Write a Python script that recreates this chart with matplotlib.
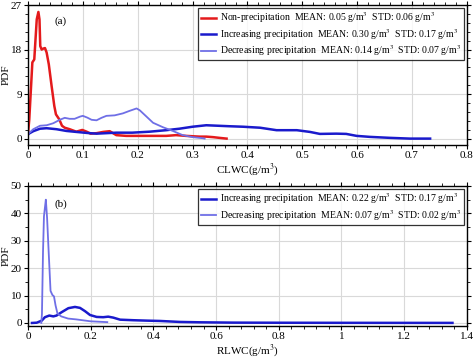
import matplotlib
matplotlib.use("Agg")
import matplotlib.pyplot as plt
from matplotlib.ticker import MultipleLocator

plt.rcParams['font.family'] = ['Liberation Serif', 'DejaVu Serif']
plt.rcParams['mathtext.fontset'] = 'stix'

# CLWC panel (a)
non_x = [0, 0.0024, 0.008, 0.0115, 0.016, 0.019, 0.021, 0.0224, 0.025, 0.028, 0.031, 0.034,
         0.038, 0.043, 0.048, 0.051, 0.057, 0.062, 0.067, 0.076, 0.088, 0.099, 0.107, 0.114,
         0.125, 0.137, 0.149, 0.155, 0.161, 0.179, 0.204, 0.234, 0.252, 0.27, 0.288, 0.313,
         0.325, 0.337, 0.349, 0.362]
non_y = [0.9, 3.9, 15.4, 16.0, 24.1, 25.6, 24.1, 18.7, 18.0, 18.2, 18.3, 17.4,
         15.0, 10.7, 6.6, 4.9, 3.9, 2.6, 2.2, 1.9, 1.4, 1.75, 1.4, 1.0,
         1.1, 1.35, 1.5, 1.1, 0.7, 0.55, 0.55, 0.55, 0.55, 0.7, 0.55, 0.4,
         0.4, 0.3, 0.15, 0.0]

inc_x = [0, 0.0097, 0.022, 0.034, 0.052, 0.07, 0.088, 0.107, 0.125, 0.143, 0.161, 0.19,
         0.222, 0.252, 0.276, 0.3, 0.325, 0.367, 0.392, 0.423, 0.453, 0.49, 0.514, 0.532,
         0.562, 0.58, 0.599, 0.623, 0.66, 0.696, 0.733]
inc_y = [0.9, 1.5, 2.0, 2.1, 1.9, 1.55, 1.35, 1.15, 1.0, 1.1, 1.2, 1.2,
         1.4, 1.7, 2.0, 2.4, 2.7, 2.5, 2.4, 2.2, 1.7, 1.7, 1.35, 0.95,
         1.0, 0.95, 0.55, 0.35, 0.15, 0.0, 0.0]

dec_x = [0, 0.0097, 0.022, 0.034, 0.046, 0.058, 0.067, 0.076, 0.085, 0.095, 0.1, 0.108,
         0.116, 0.125, 0.134, 0.143, 0.158, 0.173, 0.185, 0.198, 0.204, 0.216, 0.228,
         0.246, 0.264, 0.282, 0.3, 0.319, 0.322]
dec_y = [0.9, 1.9, 2.6, 2.7, 3.1, 3.8, 4.2, 4.0, 4.0, 4.45, 4.6, 4.25,
         3.8, 3.7, 4.2, 4.6, 4.7, 5.1, 5.6, 6.1, 5.7, 4.45, 3.2,
         2.3, 1.55, 0.7, 0.3, 0.07, 0.0]

# RLWC panel (b)
rinc_x = [0.0128, 0.028, 0.044, 0.054, 0.068, 0.081, 0.091, 0.107, 0.129, 0.15, 0.166,
          0.182, 0.198, 0.219, 0.24, 0.256, 0.272, 0.294, 0.336, 0.379, 0.421, 0.485,
          0.549, 0.655, 0.8, 1.0, 1.2, 1.354]
rinc_y = [0.0, 0.1, 0.85, 2.1, 2.7, 2.4, 2.7, 3.9, 5.4, 5.85, 5.5,
          4.3, 2.9, 2.2, 2.1, 2.3, 1.95, 1.2, 1.0, 0.85, 0.73, 0.37,
          0.24, 0.12, 0.08, 0.05, 0.03, 0.02]

rdec_x = [0.0426, 0.0446, 0.048, 0.051, 0.054, 0.057, 0.061, 0.066, 0.072, 0.078, 0.083,
          0.088, 0.094, 0.106, 0.128, 0.154, 0.2, 0.253]
rdec_y = [0.0, 3.3, 26.0, 38.9, 42.0, 45.0, 38.3, 26.0, 11.7, 10.2, 9.7,
          6.4, 3.5, 2.4, 1.6, 1.3, 0.6, 0.3]

labels_a = ['Non-precipitation  MEAN: 0.05 g/m$^3$  STD: 0.06 g/m$^3$',
            'Increasing precipitation  MEAN: 0.30 g/m$^3$  STD: 0.17 g/m$^3$',
            'Decreasing precipitation  MEAN: 0.14 g/m$^3$  STD: 0.07 g/m$^3$']
labels_b = ['Increasing precipitation  MEAN: 0.22 g/m$^3$  STD: 0.17 g/m$^3$',
            'Decreasing precipitation  MEAN: 0.07 g/m$^3$  STD: 0.02 g/m$^3$']

red = '#e41a1c'
blue = '#1a1acc'
light = '#6f6fe6'

fig = plt.figure(figsize=(4.74, 3.59), dpi=100)
ax1 = fig.add_axes([0.059, 0.596, 0.926, 0.390])
ax2 = fig.add_axes([0.059, 0.092, 0.926, 0.390])

ax1.plot(non_x, non_y, color=red, lw=1.8, label=labels_a[0])
ax1.plot(inc_x, inc_y, color=blue, lw=1.8, label=labels_a[1])
ax1.plot(dec_x, dec_y, color=light, lw=1.3, label=labels_a[2])
ax1.set_xlim(0, 0.8)
ax1.set_ylim(-1.3, 27)
ax1.set_xticks([0, 0.1, 0.2, 0.3, 0.4, 0.5, 0.6, 0.7, 0.8])
ax1.set_xticklabels(['0', '0.1', '0.2', '0.3', '0.4', '0.5', '0.6', '0.7', '0.8'])
ax1.set_yticks([0, 9, 18, 27])
ax1.xaxis.set_minor_locator(MultipleLocator(0.02))
ax1.yaxis.set_minor_locator(MultipleLocator(1.8))
ax1.set_xlabel('CLWC(g/m$^3$)', fontsize=8, labelpad=1)
ax1.set_ylabel('PDF', fontsize=8, labelpad=0)
ax1.text(0.049, 23.7, '(a)', fontsize=8, va='center')

ax2.plot(rinc_x, rinc_y, color=blue, lw=1.8, label=labels_b[0])
ax2.plot(rdec_x, rdec_y, color=light, lw=1.3, label=labels_b[1])
ax2.set_xlim(0, 1.4)
ax2.set_ylim(-1.1, 50)
ax2.set_xticks([0, 0.2, 0.4, 0.6, 0.8, 1.0, 1.2, 1.4])
ax2.set_xticklabels(['0', '0.2', '0.4', '0.6', '0.8', '1', '1.2', '1.4'])
ax2.set_yticks([0, 10, 20, 30, 40, 50])
ax2.xaxis.set_minor_locator(MultipleLocator(0.04))
ax2.yaxis.set_minor_locator(MultipleLocator(5))
ax2.set_xlabel('RLWC(g/m$^3$)', fontsize=8, labelpad=0.5)
ax2.set_ylabel('PDF', fontsize=8, labelpad=0)
ax2.text(0.086, 43.5, '(b)', fontsize=8, va='center')

for ax in (ax1, ax2):
    ax.grid(True, color='#d9d9d9', lw=0.8)
    ax.set_axisbelow(True)
    ax.tick_params(which='both', labelsize=8, direction='out', top=True, right=True, pad=1.5)
    ax.tick_params(which='major', length=3, width=0.8)
    ax.tick_params(which='minor', length=2, width=0.6)
    for s in ax.spines.values():
        s.set_linewidth(1.0)
    leg = ax.legend(loc='upper right', fontsize=7, frameon=True, fancybox=False,
                    edgecolor='black', handlelength=1.6, handletextpad=0.4,
                    borderpad=0.25, labelspacing=0.15, borderaxespad=0.3)
    leg.get_frame().set_linewidth(0.9)

fig.savefig('out.png', dpi=100)
